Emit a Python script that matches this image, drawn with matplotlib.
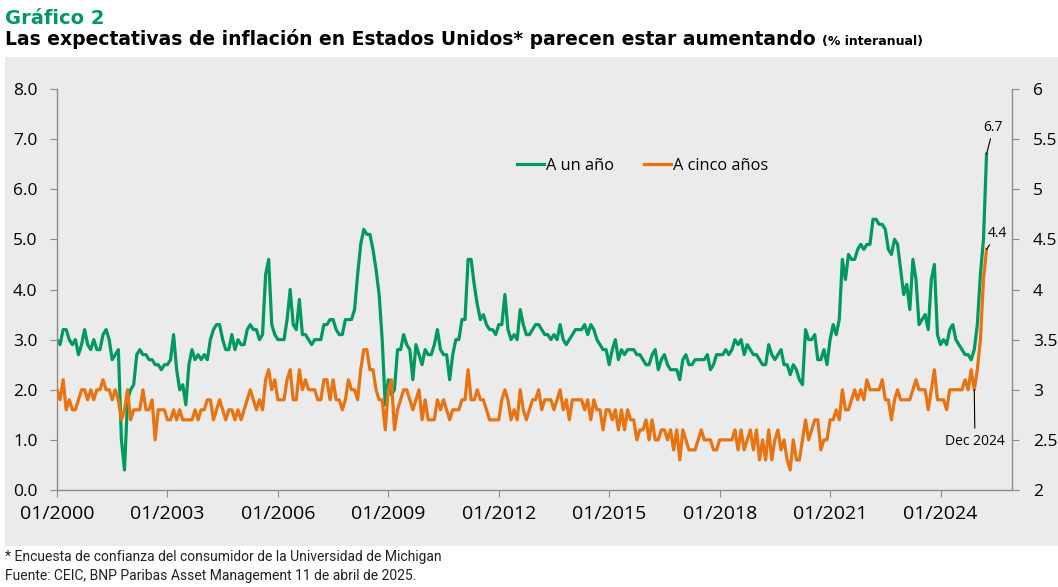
import numpy as np
import matplotlib.pyplot as plt
from matplotlib.patches import Rectangle

plt.rcParams['font.family'] = ['Open Sans', 'DejaVu Sans']

GREEN = '#009A5E'
ORANGE = '#E97211'
GREY_BG = '#EBEBEB'
AXIS = '#8C8C8C'

# expectativas a un año (eje izq.), mensual desde 01/2000
un_ano = [
    3.0, 2.9, 3.2, 3.2, 3.0, 2.9, 3.0, 2.7, 2.9, 3.2, 2.9, 2.8,  # 2000
    3.0, 2.8, 2.8, 3.1, 3.2, 3.0, 2.6, 2.7, 2.8, 1.0, 0.4, 1.8,  # 2001
    2.0, 2.1, 2.7, 2.8, 2.7, 2.7, 2.6, 2.6, 2.5, 2.5, 2.4, 2.5,  # 2002
    2.5, 2.6, 3.1, 2.4, 2.0, 2.1, 1.7, 2.5, 2.8, 2.6, 2.7, 2.6,  # 2003
    2.7, 2.6, 3.0, 3.2, 3.3, 3.3, 3.0, 2.8, 2.8, 3.1, 2.8, 3.0,  # 2004
    2.9, 2.9, 3.2, 3.3, 3.2, 3.2, 3.0, 3.1, 4.3, 4.6, 3.3, 3.1,  # 2005
    3.0, 3.0, 3.0, 3.4, 4.0, 3.3, 3.2, 3.8, 3.1, 3.1, 3.0, 2.9,  # 2006
    3.0, 3.0, 3.0, 3.3, 3.3, 3.4, 3.4, 3.2, 3.1, 3.1, 3.4, 3.4,  # 2007
    3.4, 3.6, 4.3, 4.9, 5.2, 5.1, 5.1, 4.8, 4.4, 3.9, 3.0, 1.7,  # 2008
    2.2, 1.9, 2.0, 2.8, 2.8, 3.1, 2.9, 2.8, 2.2, 2.9, 2.7, 2.5,  # 2009
    2.8, 2.7, 2.7, 2.9, 3.2, 2.8, 2.7, 2.7, 2.2, 2.7, 3.0, 3.0,  # 2010
    3.4, 3.4, 4.6, 4.6, 4.1, 3.7, 3.4, 3.5, 3.3, 3.2, 3.2, 3.1,  # 2011
    3.3, 3.3, 3.9, 3.2, 3.0, 3.1, 3.0, 3.6, 3.3, 3.1, 3.1, 3.2,  # 2012
    3.3, 3.3, 3.2, 3.1, 3.1, 3.0, 3.1, 3.0, 3.3, 3.0, 2.9, 3.0,  # 2013
    3.1, 3.2, 3.2, 3.2, 3.3, 3.1, 3.3, 3.2, 3.0, 2.9, 2.8, 2.8,  # 2014
    2.5, 2.8, 3.0, 2.6, 2.8, 2.7, 2.8, 2.8, 2.8, 2.7, 2.7, 2.6,  # 2015
    2.5, 2.5, 2.7, 2.8, 2.4, 2.6, 2.7, 2.5, 2.4, 2.4, 2.4, 2.2,  # 2016
    2.6, 2.7, 2.5, 2.5, 2.6, 2.6, 2.6, 2.6, 2.7, 2.4, 2.5, 2.7,  # 2017
    2.7, 2.7, 2.8, 2.7, 2.8, 3.0, 2.9, 3.0, 2.7, 2.9, 2.8, 2.7,  # 2018
    2.7, 2.6, 2.5, 2.5, 2.9, 2.7, 2.6, 2.7, 2.8, 2.5, 2.5, 2.3,  # 2019
    2.5, 2.4, 2.2, 2.1, 3.2, 3.0, 3.0, 3.1, 2.6, 2.6, 2.8, 2.5,  # 2020
    3.0, 3.3, 3.1, 3.4, 4.6, 4.2, 4.7, 4.6, 4.6, 4.8, 4.9, 4.8,  # 2021
    4.9, 4.9, 5.4, 5.4, 5.3, 5.3, 5.2, 4.8, 4.7, 5.0, 4.9, 4.4,  # 2022
    3.9, 4.1, 3.6, 4.6, 4.2, 3.3, 3.4, 3.5, 3.2, 4.2, 4.5, 3.1,  # 2023
    2.9, 3.0, 2.9, 3.2, 3.3, 3.0, 2.9, 2.8, 2.7, 2.7, 2.6, 2.8,  # 2024
    3.3, 4.3, 5.0, 6.7,                                          # 2025
]

# expectativas a cinco años (eje dcho.)
cinco_anos = [
    3.0, 2.9, 3.1, 2.8, 2.9, 2.8, 2.8, 2.9, 3.0, 3.0, 2.9, 3.0,  # 2000
    2.9, 3.0, 3.0, 3.1, 3.0, 3.0, 2.9, 3.0, 2.9, 2.7, 2.8, 3.0,  # 2001
    2.7, 2.8, 2.8, 2.8, 3.0, 2.8, 2.8, 2.9, 2.5, 2.8, 2.8, 2.8,  # 2002
    2.7, 2.7, 2.8, 2.7, 2.8, 2.7, 2.7, 2.7, 2.7, 2.8, 2.7, 2.8,  # 2003
    2.8, 2.9, 2.9, 2.7, 2.8, 2.9, 2.8, 2.7, 2.8, 2.8, 2.7, 2.8,  # 2004
    2.7, 2.8, 2.9, 3.0, 2.9, 2.8, 2.9, 2.8, 3.1, 3.2, 3.0, 3.1,  # 2005
    2.9, 2.9, 2.9, 3.1, 3.2, 2.9, 2.9, 3.2, 3.0, 3.1, 3.0, 3.0,  # 2006
    3.0, 2.9, 2.9, 3.1, 3.1, 2.9, 3.1, 2.9, 2.9, 2.8, 2.9, 3.1,  # 2007
    3.0, 3.0, 2.9, 3.2, 3.4, 3.4, 3.2, 3.2, 3.0, 2.9, 2.9, 2.6,  # 2008
    3.0, 3.1, 2.6, 2.8, 2.9, 3.0, 3.0, 2.9, 2.8, 2.9, 3.0, 2.7,  # 2009
    2.9, 2.7, 2.7, 2.7, 2.9, 2.8, 2.9, 2.8, 2.7, 2.8, 2.8, 2.8,  # 2010
    2.9, 2.9, 3.2, 2.9, 2.9, 3.0, 2.9, 2.9, 2.8, 2.7, 2.7, 2.7,  # 2011
    2.7, 2.9, 3.0, 2.9, 2.7, 2.8, 2.7, 3.0, 2.8, 2.7, 2.8, 2.9,  # 2012
    2.9, 3.0, 2.8, 2.9, 2.9, 2.9, 2.8, 2.9, 3.0, 2.8, 2.9, 2.7,  # 2013
    2.9, 2.9, 2.9, 2.9, 2.8, 2.9, 2.7, 2.9, 2.8, 2.8, 2.6, 2.8,  # 2014
    2.8, 2.7, 2.8, 2.6, 2.8, 2.6, 2.8, 2.7, 2.7, 2.5, 2.6, 2.6,  # 2015
    2.7, 2.5, 2.7, 2.5, 2.5, 2.6, 2.6, 2.5, 2.6, 2.4, 2.6, 2.3,  # 2016
    2.6, 2.5, 2.4, 2.4, 2.4, 2.5, 2.6, 2.5, 2.5, 2.5, 2.4, 2.4,  # 2017
    2.5, 2.5, 2.5, 2.5, 2.5, 2.6, 2.4, 2.6, 2.4, 2.5, 2.6, 2.4,  # 2018
    2.6, 2.3, 2.5, 2.3, 2.6, 2.3, 2.5, 2.6, 2.4, 2.5, 2.3, 2.2,  # 2019
    2.5, 2.3, 2.3, 2.5, 2.7, 2.5, 2.6, 2.7, 2.7, 2.4, 2.5, 2.5,  # 2020
    2.7, 2.7, 2.8, 2.7, 3.0, 2.8, 2.8, 2.9, 3.0, 2.9, 3.0, 2.9,  # 2021
    3.1, 3.0, 3.0, 3.0, 3.0, 3.1, 2.9, 2.9, 2.7, 2.9, 3.0, 2.9,  # 2022
    2.9, 2.9, 2.9, 3.0, 3.1, 3.0, 3.0, 3.0, 2.8, 3.0, 3.2, 2.9,  # 2023
    2.9, 2.9, 2.8, 3.0, 3.0, 3.0, 3.0, 3.0, 3.1, 3.0, 3.2, 3.0,  # 2024
    3.2, 3.5, 4.1, 4.4,                                          # 2025
]

tick_years = list(range(2000, 2025, 3))
tick_labels = [f'01/{y}' for y in tick_years]
dec_2024 = (2024 - 2000) * 12 + 11

months = np.arange(len(un_ano))

fig = plt.figure(figsize=(10.58, 5.87), dpi=100)
fig.patches.append(Rectangle((5 / 1058, 1 - 546 / 587), 1053 / 1058, 489 / 587,
                             transform=fig.transFigure, facecolor=GREY_BG,
                             edgecolor='none', zorder=-10))

ax = fig.add_axes([57 / 1058, 1 - 490 / 587, 955 / 1058, 401 / 587])
ax.set_facecolor('none')
ax2 = ax.twinx()

l1, = ax.plot(months, un_ano, color=GREEN, lw=2.3, label='A un año')
l2, = ax2.plot(months, cinco_anos, color=ORANGE, lw=2.3, label='A cinco años')

ax.set_xlim(0, 311.3)
ax.set_ylim(0, 8)
ax2.set_ylim(2, 6)

ax.set_xticks([(y - 2000) * 12 for y in tick_years])
ax.set_xticklabels(tick_labels)
ax.set_yticks(np.arange(0, 8.01, 1))
ax.set_yticklabels([f'{v:.1f}' for v in np.arange(0, 8.01, 1)])
ax2.set_yticks(np.arange(2, 6.01, 0.5))
ax2.set_yticklabels([f'{v:g}' for v in np.arange(2, 6.01, 0.5)])

for a in (ax, ax2):
    a.spines['top'].set_visible(False)
    for s in a.spines.values():
        s.set_color(AXIS)
        s.set_linewidth(1)
ax.spines['right'].set_visible(False)
ax2.spines['left'].set_visible(False)
ax2.spines['bottom'].set_visible(False)

ax.tick_params(axis='y', length=5, color=AXIS, pad=9, labelsize=12.5)
ax.tick_params(axis='x', length=5, color=AXIS, pad=6, labelsize=14)
ax2.tick_params(axis='y', length=5, color=AXIS, pad=10, labelsize=12.5)

ax2.legend([l1, l2], ['A un año', 'A cinco años'], loc='center',
           bbox_to_anchor=(0.613, 0.808), ncol=2, frameon=False,
           fontsize=11.8, handlelength=1.7, handletextpad=0.1,
           columnspacing=1.8, borderpad=0)

# etiquetas de los últimos datos
ax.annotate(f'{un_ano[-1]:.1f}', xy=(months[-1], un_ano[-1]), xytext=(5, 19.5),
            textcoords='offset points', ha='center', va='center', fontsize=10,
            arrowprops=dict(arrowstyle='-', color='black', lw=0.8,
                            shrinkA=1, shrinkB=0))
ax2.annotate(f'{cinco_anos[-1]:.1f}', xy=(months[-1], cinco_anos[-1]),
             xytext=(7.7, 11.5), textcoords='offset points', ha='center',
             va='center', fontsize=10,
             arrowprops=dict(arrowstyle='-', color='black', lw=0.8,
                             shrinkA=1, shrinkB=0))
ax2.annotate('Dec 2024', xy=(months[dec_2024], cinco_anos[dec_2024]),
             xytext=(0.5, -37), textcoords='offset points', ha='center',
             va='center', fontsize=10,
             arrowprops=dict(arrowstyle='-', color='black', lw=0.8,
                             shrinkA=2, shrinkB=0))

# títulos
fig.text(5 / 1058, 1 - 24 / 587, 'Gráfico 2', color=GREEN, fontsize=14,
         fontweight='bold', family='DejaVu Sans', va='baseline')
t = fig.text(5 / 1058, 1 - 45 / 587,
             'Las expectativas de inflación en Estados Unidos* parecen estar aumentando',
             color='black', fontsize=13.5, fontweight='bold',
             family='DejaVu Sans', va='baseline')
fig.canvas.draw()
bb = t.get_window_extent()
fig.text((bb.x1 + 6) / 1058, 1 - 45 / 587, '(% interanual)', fontsize=9,
         fontweight='bold', family='DejaVu Sans', va='baseline')

fig.text(5 / 1058, 1 - 557 / 587,
         '* Encuesta de confianza del consumidor de la Universidad de Michigan',
         fontsize=10, color='#222222', family=['Roboto', 'DejaVu Sans'], va='center')
fig.text(5 / 1058, 1 - 576 / 587,
         'Fuente: CEIC, BNP Paribas Asset Management 11 de abril de 2025.',
         fontsize=10, color='#222222', family=['Roboto', 'DejaVu Sans'], va='center')

fig.savefig('out.png', dpi=100)
